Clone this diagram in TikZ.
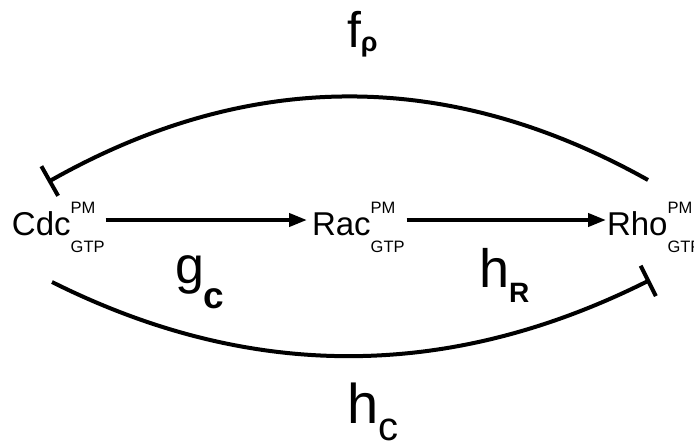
\documentclass[tikz,border=0pt]{standalone}
\usepackage{fontspec}
\setmainfont{Liberation Sans}
\usetikzlibrary{arrows.meta}
\newcommand\fsz[1]{\fontsize{#1}{#1}\selectfont}
\newcommand\species[1]{{\fsz{33}#1}{\fsz{16.5}\rlap{\raisebox{22pt}{PM}}\raisebox{-17pt}{GTP}}}
\tikzset{
  spec/.style={anchor=base west, inner sep=0pt, outer sep=0pt},
  lbl/.style={anchor=base west, inner sep=0pt, outer sep=0pt},
  act/.style={line width=4pt, -{Triangle[length=18pt,width=13pt]}},
  inh/.style={line width=4pt, -{Bar[width=34pt,line width=4pt]}},
}
\begin{document}
\begin{tikzpicture}[x=1pt,y=-1pt]
\useasboundingbox (0,0) rectangle (694,442);
\fill[white] (0,0) rectangle (694,442);
% species
\node[spec] (cdc) at (12,235) {\species{Cdc}};
\node[spec] (rac) at (312,235) {\species{Rac}};
\node[spec] (rho) at (607,235) {\species{Rho}};
% activation arrows
\draw[act] ([shift={(1,-15)}]cdc.base east) -- ([shift={(-5,-15)}]rac.base west);
\draw[act] ([shift={(2,-15)}]rac.base east) -- ([shift={(-1,-15)}]rho.base west);
% arc endpoints
\coordinate (tr) at (648,180);
\coordinate (tl) at (48,182);
\coordinate (bl) at (52,282);
\coordinate (br) at (650,280);
\draw[inh] (tr) .. controls (448,68) and (248,69) .. (tl);
\draw[inh] (bl) .. controls (252,382) and (450,380) .. (br);
% labels
\node[lbl] (fp) at (347,47) {\fsz{50}f\raisebox{-4pt}{\bfseries\fsz{27}ρ}};
\node[lbl] (gc) at (175,283) {\fsz{52}g\raisebox{-25pt}{\bfseries\fsz{37}c}};
\node[lbl] (hr) at (479,287) {\fsz{54}h\raisebox{-15pt}{\bfseries\fsz{28}R}};
\node[lbl] (hc) at (347,423) {\fsz{56}h\raisebox{-17pt}{\fsz{40}c}};
\end{tikzpicture}
\end{document}
